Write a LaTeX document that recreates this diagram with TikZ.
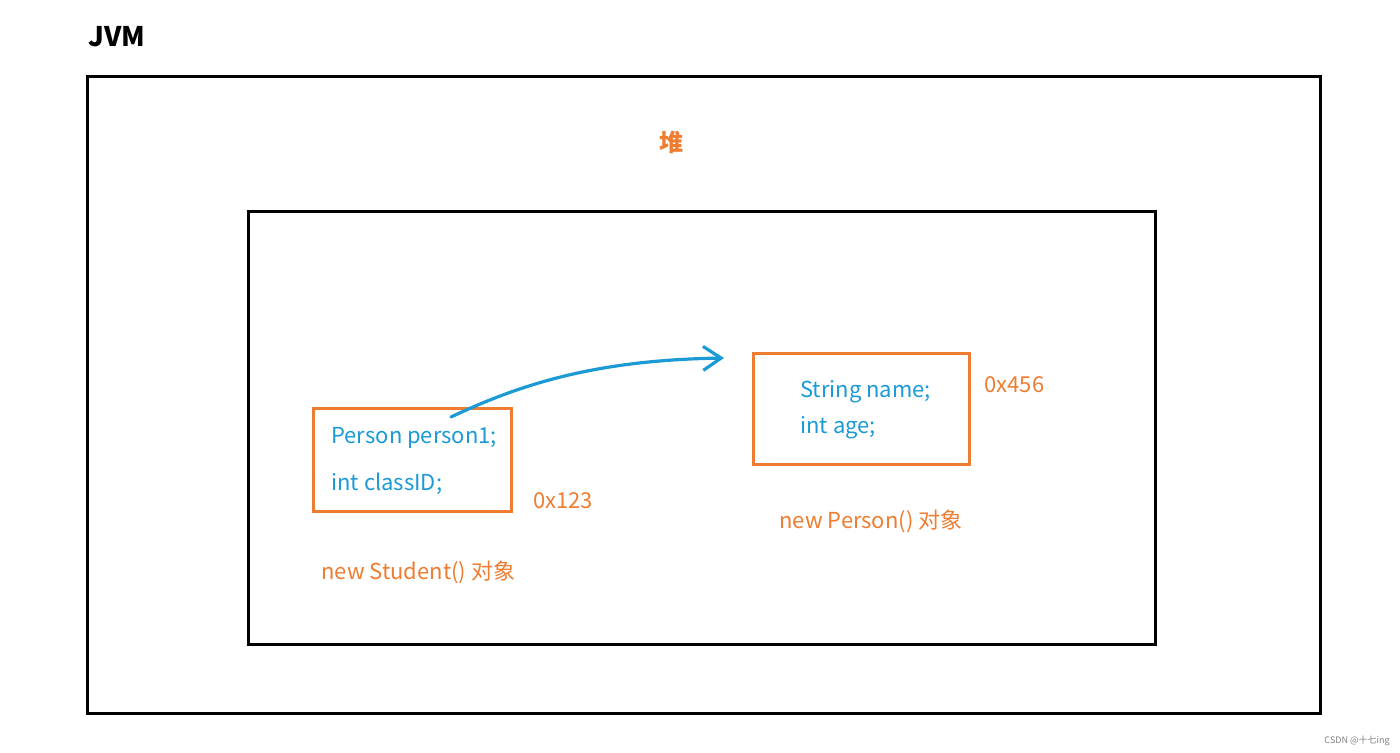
\documentclass[tikz,border=0pt]{standalone}
\usepackage{fontspec}
\setmainfont{Noto Sans CJK SC}
\usepackage{tikz}
\usetikzlibrary{arrows.meta}
\definecolor{heaporange}{HTML}{EE7D31}
\definecolor{fieldblue}{HTML}{1B9AD6}
\tikzset{
    frame/.style={draw=black,line width=1.5pt},
    objbox/.style={draw=heaporange,line width=1.5pt},
    field/.style={anchor=west,text=fieldblue,font=\fontsize{11}{13}\selectfont,inner sep=0pt},
    note/.style={anchor=west,text=heaporange,font=\fontsize{11}{13}\selectfont,inner sep=0pt}
}

\begin{document}
\begin{tikzpicture}[x=0.5pt,y=-0.5pt]
\useasboundingbox (0,0) rectangle (1400,752);

% JVM and heap frames
\node[anchor=west,inner sep=0pt,font=\bfseries\fontsize{13.5}{15}\selectfont] (jvm) at (88,37) {JVM};
\draw[frame] (87,76) rectangle (1320,713);
\node[text=heaporange,inner sep=0pt,font=\bfseries\fontsize{12}{14}\selectfont] (heap) at (671,142) {堆};
\draw[frame] (248,211) rectangle (1155,644);

% Student object
\draw[objbox] (313,408) rectangle (511,511);
\node[field] (person1) at (331,438) {Person person1;};
\node[field] (classid) at (331,484) {int classID;};
\node[note] (addr1) at (533,501) {0x123};
\node[note] (stu) at (321,572) {new Student() 对象};

% Person object
\draw[objbox] (753,353) rectangle (969,464);
\node[field] (name) at (800,392) {String name;};
\node[field] (age) at (800,428) {int age;};
\node[note] (addr2) at (984,385) {0x456};
\node[note] (per) at (779,521) {new Person() 对象};

% Reference arrow
\coordinate (ptrstart) at (451,417);
\coordinate (ptrend) at (724,358);
\draw[fieldblue,line width=1.6pt,line cap=round,-{Straight Barb[length=9pt,width=12pt]}]
    (ptrstart) .. controls (525,382) and (600,360) .. (ptrend);

% watermark
\node[anchor=east,text=gray,inner sep=0pt,font=\fontsize{4.5}{5}\selectfont] (mark) at (1390,741) {CSDN @十七ing};

\end{tikzpicture}
\end{document}
